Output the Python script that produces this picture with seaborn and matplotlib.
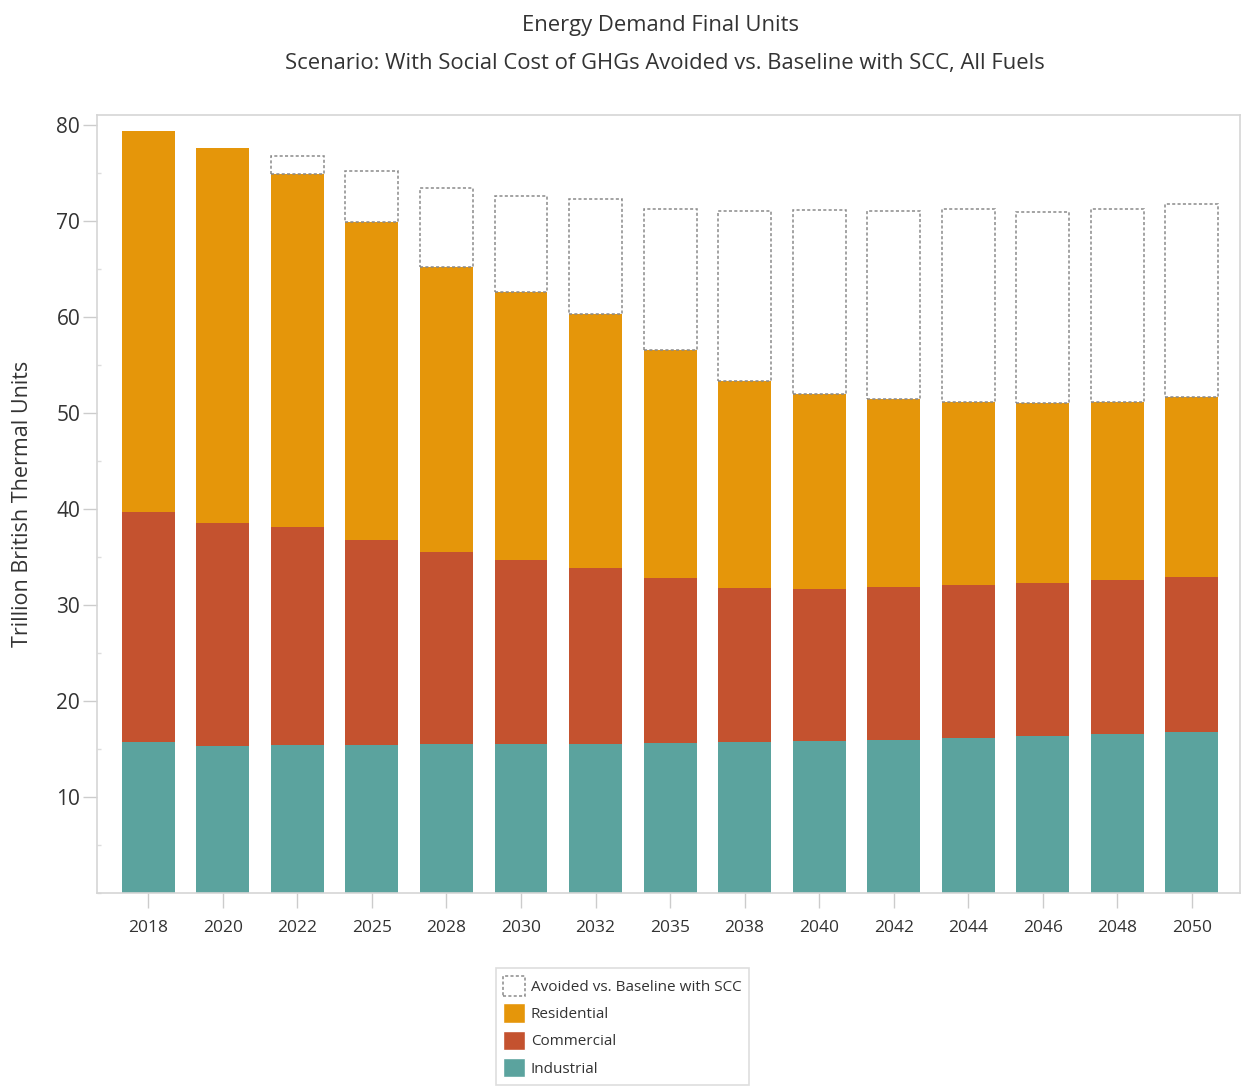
import numpy as np
import pandas as pd
import matplotlib
matplotlib.use("Agg")
import matplotlib.pyplot as plt
from matplotlib.patches import Patch
from matplotlib.ticker import MultipleLocator
import seaborn as sns

years = ["2018", "2020", "2022", "2025", "2028", "2030", "2032", "2035",
         "2038", "2040", "2042", "2044", "2046", "2048", "2050"]
industrial = [15.7, 15.3, 15.4, 15.4, 15.5, 15.5, 15.5, 15.6, 15.8, 15.9, 16.0, 16.2, 16.4, 16.6, 16.8]
commercial = [24.0, 23.3, 22.7, 21.4, 20.0, 19.2, 18.4, 17.2, 16.0, 15.8, 15.9, 15.9, 15.9, 16.0, 16.1]
residential = [39.7, 39.0, 36.8, 33.1, 29.7, 27.9, 26.4, 23.8, 21.5, 20.3, 19.6, 19.1, 18.7, 18.6, 18.8]
baseline_total = [79.4, 77.6, 76.8, 75.2, 73.4, 72.6, 72.3, 71.2, 71.0, 71.1, 71.0, 71.2, 70.9, 71.2, 71.8]

c_ind = "#5BA39E"
c_com = "#C4522F"
c_res = "#E5960A"
edge_grey = "#8a8a8a"
text_c = "#333333"

sns.set_theme(style="white")
plt.rcParams["font.family"] = ["Open Sans", "DejaVu Sans"]

df = pd.DataFrame({"year": years, "industrial": industrial,
                   "commercial": commercial, "residential": residential,
                   "baseline": baseline_total})
df["cum_com"] = df["industrial"] + df["commercial"]
df["cum_res"] = df["cum_com"] + df["residential"]
df["avoided"] = df["baseline"] - df["cum_res"]

fig = plt.figure(figsize=(12.42, 10.88), dpi=100)
ax = fig.add_axes([0.078, 0.179, 0.920, 0.715])

W = 0.71
sns.barplot(data=df, x="year", y="industrial", order=years, color=c_ind,
            width=W, saturation=1, linewidth=0, ax=ax)
sns.barplot(data=df, x="year", y="commercial", order=years, color=c_com,
            width=W, saturation=1, linewidth=0, bottom=df["industrial"].values, ax=ax)
sns.barplot(data=df, x="year", y="residential", order=years, color=c_res,
            width=W, saturation=1, linewidth=0, bottom=df["cum_com"].values, ax=ax)
av = df[df["avoided"] > 0.05]
sns.barplot(data=av, x="year", y="avoided", order=years, color="white",
            width=W, saturation=1, linewidth=1.1, edgecolor=edge_grey,
            linestyle=(0, (2, 1.5)), bottom=av["cum_res"].values, ax=ax)

ax.set_xlim(-0.69, 14.64)
ax.set_ylim(0, 81)
ax.set_yticks([10, 20, 30, 40, 50, 60, 70, 80])
ax.yaxis.set_minor_locator(MultipleLocator(5))
ax.tick_params(axis="y", which="major", length=10, width=1, color="#cccccc",
               labelsize=15, labelcolor=text_c, pad=2, left=True)
ax.tick_params(axis="y", which="minor", length=3, width=1, color="#dddddd",
               direction="in", left=True)
ax.tick_params(axis="x", which="major", length=11, width=1, color="#cccccc",
               labelsize=12.5, labelcolor=text_c, pad=8, bottom=True)
ax.set_xlabel("")
ax.set_ylabel("Trillion British Thermal Units", fontsize=15.5, color=text_c)
ax.yaxis.set_label_coords(-0.056, 0.5)
for s in ax.spines.values():
    s.set_color("#d5d5d5")
    s.set_linewidth(1.2)

fig.text(0.532, 0.977, "Energy Demand Final Units", ha="center", va="center",
         fontsize=15.8, color=text_c)
fig.text(0.535, 0.942, "Scenario: With Social Cost of GHGs Avoided vs. Baseline with SCC, All Fuels",
         ha="center", va="center", fontsize=15.8, color=text_c)

handles = [
    Patch(facecolor="white", edgecolor=edge_grey, linestyle=(0, (2, 1.5)), linewidth=1.1,
          label="Avoided vs. Baseline with SCC"),
    Patch(facecolor=c_res, label="Residential"),
    Patch(facecolor=c_com, label="Commercial"),
    Patch(facecolor=c_ind, label="Industrial"),
]
leg = fig.legend(handles=handles, loc="upper left", bbox_to_anchor=(0.399, 0.110),
                 frameon=True, fancybox=False, fontsize=11, labelcolor=text_c,
                 handlelength=1.4, handleheight=1.6, handletextpad=0.4,
                 labelspacing=0.5, borderpad=0.5, borderaxespad=0)
leg.get_frame().set_edgecolor("#d5d5d5")
leg.get_frame().set_linewidth(1.2)

fig.savefig("out.png", dpi=100)
